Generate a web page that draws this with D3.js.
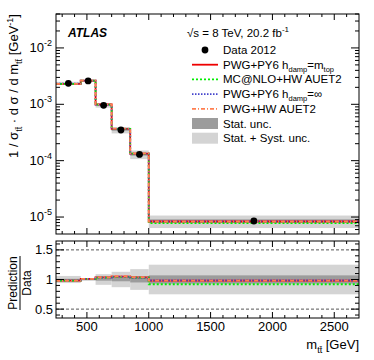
<!DOCTYPE html>
<html>
<head>
<meta charset="utf-8">
<script src="https://cdn.jsdelivr.net/npm/d3@7"></script>
<style>
  body { margin: 0; background: #fff; }
  svg { display: block; font-family: "Liberation Sans", Arial, sans-serif; }
</style>
</head>
<body>
<svg id="chart" width="374" height="360"></svg>
<script>
// bin edges in m_tt [GeV]
const binEdges = [250, 450, 570, 700, 850, 1000, 2700];
const dataVals = [2.36e-3, 2.6e-3, 9.6e-4, 3.5e-4, 1.29e-4, 8.5e-6];
const dataCenters = [350, 510, 635, 775, 925, 1850];

// relative uncertainties
const statUnc = [0.012, 0.01, 0.02, 0.03, 0.05, 0.07];
const totUnc = [0.06, 0.02, 0.09, 0.13, 0.175, 0.25];

// prediction / data
const ratioPwgPy6 = [0.98, 1.01, 1.035, 1.05, 1.035, 0.98];
const ratioMcnlo = [0.98, 1.01, 1.03, 1.045, 1.03, 0.92];
const ratioPwgPy6Inf = [0.985, 1.01, 1.03, 1.05, 1.03, 0.985];
const ratioPwgHw = [0.98, 1.012, 1.035, 1.055, 1.04, 0.98];

const series = [
  {name: "PWG+PY6 h_damp=m_top", ratio: ratioPwgPy6, color: "#ee0000", dash: null},
  {name: "MC@NLO+HW AUET2", ratio: ratioMcnlo, color: "#00ee00", dash: "2,2"},
  {name: "PWG+PY6 h_damp=∞", ratio: ratioPwgPy6Inf, color: "#4444cc", dash: "1.5,1.5"},
  {name: "PWG+HW AUET2", ratio: ratioPwgHw, color: "#ff7f50", dash: "4,2,1,2"}
];

const xTicks = [500, 1000, 1500, 2000, 2500];
const yTicks = [1e-5, 1e-4, 1e-3, 1e-2];
const rTicks = [0.5, 1, 1.5];

const svg = d3.select("#chart");
const L = 56, R = 359;
const mainTop = 14, mainBot = 234, ratTop = 241, ratBot = 318;

const x = d3.scaleLinear().domain([250, 2700]).range([L, R]);
const y = d3.scaleLog().domain([5e-6, 4e-2]).range([mainBot, mainTop]);
const yr = d3.scaleLinear().domain([0.35, 1.65]).range([ratBot, ratTop]);

const bins = d3.range(dataVals.length).map(i => ({lo: binEdges[i], hi: binEdges[i + 1], i}));

// main panel bands
const gMain = svg.append("g");
gMain.selectAll(".tot").data(bins).enter().append("rect")
  .attr("x", d => x(d.lo)).attr("width", d => x(d.hi) - x(d.lo))
  .attr("y", d => y(dataVals[d.i] * (1 + totUnc[d.i])))
  .attr("height", d => y(dataVals[d.i] * (1 - totUnc[d.i])) - y(dataVals[d.i] * (1 + totUnc[d.i])))
  .attr("fill", "#d4d4d4");
gMain.selectAll(".stat").data(bins).enter().append("rect")
  .attr("x", d => x(d.lo)).attr("width", d => x(d.hi) - x(d.lo))
  .attr("y", d => y(dataVals[d.i] * (1 + statUnc[d.i])))
  .attr("height", d => y(dataVals[d.i] * (1 - statUnc[d.i])) - y(dataVals[d.i] * (1 + statUnc[d.i])))
  .attr("fill", "#9c9c9c");

function stepPts(vals) {
  const pts = vals.map((v, i) => [binEdges[i], v]);
  pts.push([binEdges[binEdges.length - 1], vals[vals.length - 1]]);
  return pts;
}

const lineMain = d3.line().curve(d3.curveStepAfter).x(d => x(d[0])).y(d => y(d[1]));
const lineRat = d3.line().curve(d3.curveStepAfter).x(d => x(d[0])).y(d => yr(d[1]));

series.forEach(s => {
  const pred = s.ratio.map((r, i) => r * dataVals[i]);
  gMain.append("path").attr("d", lineMain(stepPts(pred)))
    .attr("fill", "none").attr("stroke", s.color).attr("stroke-width", 1.8)
    .attr("stroke-dasharray", s.dash);
});

gMain.selectAll(".pt").data(dataVals).enter().append("circle")
  .attr("cx", (d, i) => x(dataCenters[i])).attr("cy", d => y(d))
  .attr("r", 3.4).attr("fill", "#000");

// ratio panel
const gRat = svg.append("g");
gRat.selectAll(".tot").data(bins).enter().append("rect")
  .attr("x", d => x(d.lo)).attr("width", d => x(d.hi) - x(d.lo))
  .attr("y", d => yr(1 + totUnc[d.i]))
  .attr("height", d => yr(1 - totUnc[d.i]) - yr(1 + totUnc[d.i]))
  .attr("fill", "#d4d4d4");
gRat.selectAll(".stat").data(bins).enter().append("rect")
  .attr("x", d => x(d.lo)).attr("width", d => x(d.hi) - x(d.lo))
  .attr("y", d => yr(1 + statUnc[d.i]))
  .attr("height", d => yr(1 - statUnc[d.i]) - yr(1 + statUnc[d.i]))
  .attr("fill", "#9c9c9c");
[0.5, 1.5].forEach(v => {
  gRat.append("line").attr("x1", L).attr("x2", R).attr("y1", yr(v)).attr("y2", yr(v))
    .attr("stroke", "#555").attr("stroke-width", 1).attr("stroke-dasharray", "3,2");
});
series.forEach(s => {
  gRat.append("path").attr("d", lineRat(stepPts(s.ratio)))
    .attr("fill", "none").attr("stroke", s.color).attr("stroke-width", 1.8)
    .attr("stroke-dasharray", s.dash);
});

// frames and ticks
function frame(top, bot) {
  svg.append("rect").attr("x", L).attr("y", top).attr("width", R - L).attr("height", bot - top)
    .attr("fill", "none").attr("stroke", "#000").attr("stroke-width", 1);
}
frame(mainTop, mainBot);
frame(ratTop, ratBot);

function xTickMarks(top, bot) {
  const g = svg.append("g").attr("stroke", "#000").attr("stroke-width", 1);
  d3.range(300, 2700, 100).forEach(v => {
    const len = v % 500 === 0 ? 6 : 3;
    g.append("line").attr("x1", x(v)).attr("x2", x(v)).attr("y1", bot).attr("y2", bot - len);
    g.append("line").attr("x1", x(v)).attr("x2", x(v)).attr("y1", top).attr("y2", top + len);
  });
}
xTickMarks(mainTop, mainBot);
xTickMarks(ratTop, ratBot);

// log y ticks
const gy = svg.append("g").attr("stroke", "#000").attr("stroke-width", 1);
[-6, -5, -4, -3, -2].forEach(e => {
  for (let m = 1; m < 10; m++) {
    const v = m * Math.pow(10, e);
    if (v < 5e-6 || v > 4e-2) continue;
    const len = m === 1 ? 8 : 4;
    gy.append("line").attr("x1", L).attr("x2", L + len).attr("y1", y(v)).attr("y2", y(v));
    gy.append("line").attr("x1", R).attr("x2", R - len).attr("y1", y(v)).attr("y2", y(v));
  }
});
d3.range(0.4, 1.65, 0.1).forEach(v => {
  const major = Math.abs(v * 2 - Math.round(v * 2)) < 1e-6;
  const len = major ? 8 : 4;
  gy.append("line").attr("x1", L).attr("x2", L + len).attr("y1", yr(v)).attr("y2", yr(v));
  gy.append("line").attr("x1", R).attr("x2", R - len).attr("y1", yr(v)).attr("y2", yr(v));
});

// tick labels
yTicks.forEach(v => {
  const e = Math.round(Math.log10(v));
  const t = svg.append("text").attr("x", L - 4).attr("y", y(v) + 4)
    .attr("text-anchor", "end").attr("font-size", 13).attr("fill", "#000");
  t.append("tspan").text("10");
  t.append("tspan").attr("dy", -6).attr("font-size", 9).text(e);
});
rTicks.forEach(v => {
  svg.append("text").attr("x", L - 3).attr("y", yr(v) + 4.5)
    .attr("text-anchor", "end").attr("font-size", 13).text(v);
});
xTicks.forEach(v => {
  svg.append("text").attr("x", x(v)).attr("y", 331)
    .attr("text-anchor", "middle").attr("font-size", 13).text(v);
});

// axis titles
const xt = svg.append("text").attr("x", R).attr("y", 349).attr("text-anchor", "end").attr("font-size", 13);
xt.append("tspan").text("m");
xt.append("tspan").attr("dy", 4).attr("font-size", 9).text("tt\u0304");
xt.append("tspan").attr("dy", -4).text(" [GeV]");

const yt = svg.append("text").attr("transform", "translate(18,14) rotate(-90)")
  .attr("text-anchor", "end").attr("font-size", 13);
yt.append("tspan").text("1 / σ");
yt.append("tspan").attr("dy", 4).attr("font-size", 9).text("tt\u0304");
yt.append("tspan").attr("dy", -4).text(" · d σ / d m");
yt.append("tspan").attr("dy", 4).attr("font-size", 9).text("tt\u0304");
yt.append("tspan").attr("dy", -4).text(" [GeV");
yt.append("tspan").attr("dy", -5).attr("font-size", 9).text("-1");
yt.append("tspan").attr("dy", 5).text("]");

const ratLab = svg.append("g").attr("transform", "translate(19,283) rotate(-90)");
ratLab.append("text").attr("x", 0).attr("y", -2).attr("text-anchor", "middle").attr("font-size", 12).text("Prediction");
ratLab.append("line").attr("x1", -27).attr("x2", 27).attr("y1", 1).attr("y2", 1).attr("stroke", "#000").attr("stroke-width", 1);
ratLab.append("text").attr("x", 0).attr("y", 12).attr("text-anchor", "middle").attr("font-size", 12).text("Data");

// ATLAS label
svg.append("text").attr("x", 68).attr("y", 37).attr("font-size", 12)
  .attr("font-weight", "bold").attr("font-style", "italic").text("ATLAS");
const lumi = svg.append("text").attr("x", 187).attr("y", 37).attr("font-size", 11.5);
lumi.append("tspan").text("\u221As = 8 TeV, 20.2 fb");
lumi.append("tspan").attr("dy", -5).attr("font-size", 8).text("-1");

// legend
const legX = 192, legW = 26, textX = 223, legY0 = 50, legDy = 14.7;
const leg = svg.append("g").attr("font-size", 11.5);
leg.append("circle").attr("cx", 205).attr("cy", legY0).attr("r", 3.4).attr("fill", "#000");
leg.append("text").attr("x", textX).attr("y", legY0 + 4).text("Data 2012");
series.forEach((s, i) => {
  const yy = legY0 + legDy * (i + 1);
  leg.append("line").attr("x1", legX).attr("x2", legX + legW).attr("y1", yy).attr("y2", yy)
    .attr("stroke", s.color).attr("stroke-width", 1.8).attr("stroke-dasharray", s.dash);
  const t = leg.append("text").attr("x", textX).attr("y", yy + 4);
  const m = s.name.match(/^(.*) h_damp=(.*)$/);
  if (m) {
    t.append("tspan").text(m[1] + " h");
    t.append("tspan").attr("dy", 3).attr("font-size", 7.5).text("damp");
    if (m[2] === "m_top") {
      t.append("tspan").attr("dy", -3).text("=m");
      t.append("tspan").attr("dy", 3).attr("font-size", 7.5).text("top");
    } else {
      t.append("tspan").attr("dy", -3).text("=" + m[2]);
    }
  } else {
    t.text(s.name);
  }
});
[["Stat. unc.", "#9c9c9c"], ["Stat. + Syst. unc.", "#d4d4d4"]].forEach((b, i) => {
  const yy = legY0 + legDy * (i + 5);
  leg.append("rect").attr("x", legX).attr("y", yy - 5.5).attr("width", legW).attr("height", 11).attr("fill", b[1]);
  leg.append("text").attr("x", textX).attr("y", yy + 4).text(b[0]);
});
</script>
</body>
</html>
